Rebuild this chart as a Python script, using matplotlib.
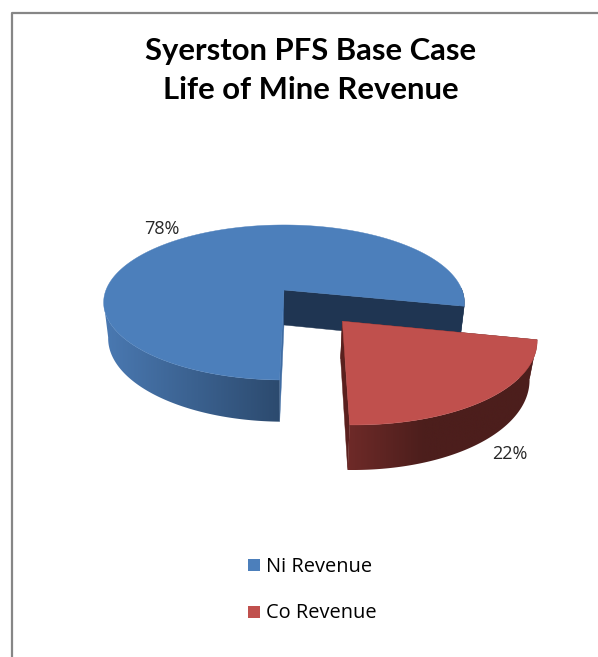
#!/usr/bin/env python3

import numpy as np
import matplotlib
matplotlib.use("Agg")
import matplotlib.pyplot as plt
from matplotlib.patches import Polygon, Rectangle

title = "Syerston PFS Base Case\nLife of Mine Revenue"
labels = ["Ni Revenue", "Co Revenue"]
values = [78, 22]
explode = [0.0, 0.495]
top_colors = ["#4C7FBB", "#C0504D"]
wall_colors = ["#1F3552", "#5A201E"]
# the thin wall seen edge on at the front of each slice
sliver_colors = ["#3F6CA3", "#5A201E"]
# rim gradient colours, left end then right end of the rim on screen
rim_left = ["#4A79B2", "#6E2A28"]
rim_right = ["#2C4A6E", "#4C1E1C"]
rim_fade = [1.0, 0.4]
shrink = [0.025, 0.03]

# pie geometry, fake perspective
cx, cy = 284, 290
rx, ry = 178, 75.5
persp = 0.161
depth = 35
start = 12.0


def project(X, Y, z=0.0, c=0.0):
    s = 1.0 / (1.0 - persp * Y)
    return cx + rx * X * s * (1 - c * z), cy + (ry * Y + depth * z) * s


def rim_patch(X, Y, i):
    # gradient image clipped to the rim outline
    pts = [project(p, q, 0, shrink[i]) for p, q in zip(X, Y)]
    pts += [project(p, q, 1, shrink[i]) for p, q in zip(X[::-1], Y[::-1])]
    pts = np.array(pts)
    x0, x1 = pts[:, 0].min(), pts[:, 0].max()
    f = np.clip(np.linspace(0, 1, 256) / rim_fade[i], 0, 1)[None, :, None]
    a = np.array(matplotlib.colors.to_rgb(rim_left[i]))
    b = np.array(matplotlib.colors.to_rgb(rim_right[i]))
    poly = Polygon(pts, fc="none", ec="none", transform=ax.transData)
    ax.add_patch(poly)
    im = ax.imshow(a + (b - a) * f, extent=(x0, x1, pts[:, 1].max(), pts[:, 1].min()),
                   aspect="auto", interpolation="bilinear", zorder=1)
    im.set_clip_path(poly)


fig = plt.figure(figsize=(5.98, 6.57), dpi=100)
ax = fig.add_axes([0, 0, 1, 1])
ax.axis("off")

# chart frame, only left and top are inside the picture
ax.plot([11.5, 11.5, 598], [657, 12.5, 12.5], color="#868686", lw=1.6, zorder=1)

# slices go clockwise on screen from the start angle, red first
theta0 = start
spans = []
for v in values[::-1]:
    spans.append((theta0, theta0 + v * 3.6))
    theta0 += v * 3.6
spans = spans[::-1]

for i in range(2):
    z = 2 + i * 2
    c = shrink[i]
    a0, a1 = spans[i]
    t = np.radians(np.linspace(a0, a1, 400))
    b = np.radians((a0 + a1) / 2)
    ox, oy = explode[i] * np.cos(b), explode[i] * np.sin(b)
    X = ox + np.cos(t)
    Y = oy + np.sin(t)

    # cut walls from apex to each end of the arc
    for j in (0, -1):
        col = sliver_colors[i] if j == 0 else wall_colors[i]
        pts = [project(ox, oy, 0, c), project(X[j], Y[j], 0, c),
               project(X[j], Y[j], 1, c), project(ox, oy, 1, c)]
        ax.add_patch(Polygon(pts, fc=col, ec=col, lw=0.3, zorder=z))

    # outer rim, only the part facing the viewer, stops at the silhouette
    deg = np.degrees(t)
    near = deg <= 172
    rim_patch(X[near], Y[near], i)
    ax.images[-1].set_zorder(z + 0.5)
    back = deg >= 358
    if back.any():
        pts = [project(p, q, 0, c) for p, q in zip(X[back], Y[back])]
        pts += [project(p, q, 1, c) for p, q in zip(X[back][::-1], Y[back][::-1])]
        ax.add_patch(Polygon(pts, fc=wall_colors[i], ec=wall_colors[i], lw=0.3, zorder=z))

    top = [project(ox, oy)] + [project(p, q) for p, q in zip(X, Y)]
    ax.add_patch(Polygon(top, fc=top_colors[i], ec=top_colors[i], lw=0.3, zorder=z + 1))

ax.set_xlim(0, 598)
ax.set_ylim(657, 0)

ax.text(311, 70.5, title, ha="center", va="center", fontsize=22.3, fontweight="bold",
        family="Lato", linespacing=1.5, color="black")

ax.text(161.5, 229, "%d%%" % values[0], ha="center", va="center", fontsize=13, family="Open Sans", color="#262626")
ax.text(509.5, 454, "%d%%" % values[1], ha="center", va="center", fontsize=13, family="Open Sans", color="#262626")

for i, y in enumerate([565, 612]):
    ax.add_patch(Rectangle((248, y - 6), 12, 12, fc=top_colors[i], ec="none"))
    ax.text(266, y + 1.5, labels[i], ha="left", va="center", fontsize=14.4, family="Open Sans", color="black")

fig.savefig("out.png", dpi=100)
